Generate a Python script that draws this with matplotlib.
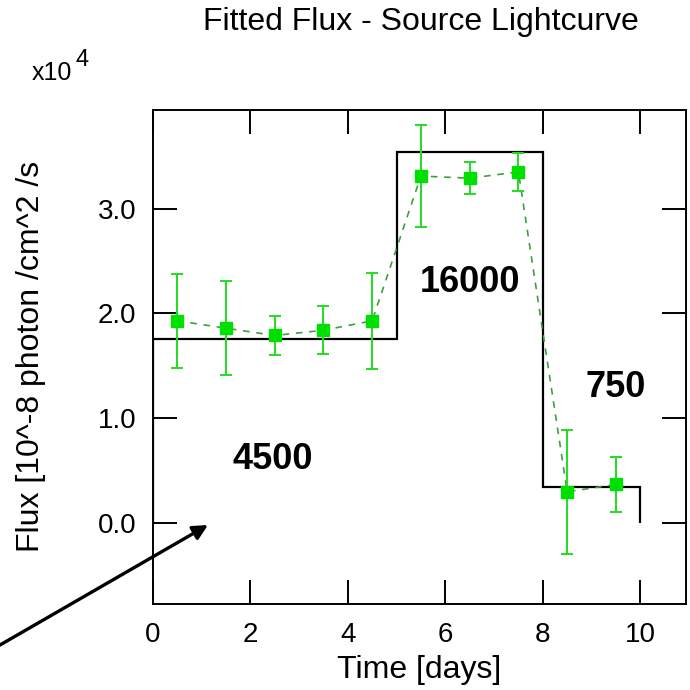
import matplotlib
matplotlib.use("Agg")
import matplotlib.pyplot as plt
import numpy as np

plt.rcParams['font.family'] = ['Liberation Sans', 'DejaVu Sans']

# Binned lightcurve (flux in units of 1e4)
time_days = [0.5, 1.5, 2.5, 3.5, 4.5, 5.5, 6.5, 7.5, 8.5, 9.5]
flux = [1.93, 1.86, 1.79, 1.84, 1.93, 3.31, 3.29, 3.35, 0.30, 0.37]
flux_err = [0.45, 0.45, 0.19, 0.23, 0.46, 0.49, 0.15, 0.18, 0.59, 0.26]

# Input step model
step_edges = [0, 5, 8, 10]
step_levels = [1.76, 3.54, 0.35]

# Segment annotations: (text, x, y)
seg_labels = ["4500", "16000", "750"]
seg_x = [2.46, 6.50, 9.50]
seg_y = [0.61, 2.30, 1.29]

xticks = [0, 2, 4, 6, 8, 10]
yticks = [0.0, 1.0, 2.0, 3.0]

W = H = 690
AX_L, AX_R, AX_T, AX_B = 152.7, 685.7, 110.0, 604.0
fig = plt.figure(figsize=(6.9, 6.9), dpi=100)
ax = fig.add_axes([AX_L / W, 1 - AX_B / H, (AX_R - AX_L) / W, (AX_B - AX_T) / H])

green = '#00e000'

ax.stairs(step_levels, step_edges, baseline=0, color='black', lw=1.6, zorder=2)

ax.plot(time_days, flux, ls=(0, (4, 4)), color='#3f9f3f', lw=1.2, zorder=3)
ax.errorbar(time_days, flux, yerr=flux_err, fmt='s', color=green, ms=8,
            ecolor='#22dd22', elinewidth=1.4, capsize=4, capthick=1.4, zorder=4)

for txt, x, y in zip(seg_labels, seg_x, seg_y):
    ax.text(x, y, txt, ha='center', va='center', fontsize=26, fontweight='bold')

ax.set_xlim(0, 10.93)
ax.set_ylim(-0.77, 3.94)
ax.set_xticks(xticks)
ax.set_xticklabels([str(t) for t in xticks])
ax.set_yticks(yticks)
ax.set_yticklabels([f"{t:.1f}" for t in yticks])

ax.tick_params(direction='in', length=17, width=1.4, top=True, right=True,
               labelsize=20, colors='black')
ax.tick_params(axis='x', pad=13)
ax.tick_params(axis='y', pad=12)
for s in ax.spines.values():
    s.set_linewidth(1.4)

ax.set_xlabel('Time [days]', fontsize=23)
ax.xaxis.label.set_va('baseline')
ax.xaxis.set_label_coords((419 - AX_L) / (AX_R - AX_L), (AX_B - 678) / (AX_B - AX_T))

ax.set_ylabel('Flux [10^-8 photon /cm^2 /s', fontsize=23)
ax.yaxis.label.set_va('center')
ax.yaxis.set_label_coords((31 - AX_L) / (AX_R - AX_L), (AX_B - 356) / (AX_B - AX_T))

fig.text(421 / W, 1 - 30 / H, 'Fitted Flux - Source Lightcurve', ha='center', va='baseline', fontsize=23)
fig.text(32 / W, 1 - 80 / H, 'x10', ha='left', va='baseline', fontsize=18)
fig.text(76 / W, 1 - 66 / H, '4', ha='left', va='baseline', fontsize=17)

ax.annotate('', xy=(208 / W, 1 - 525 / H), xycoords='figure fraction',
            xytext=(0 / W, 1 - 645 / H), textcoords='figure fraction',
            arrowprops=dict(arrowstyle='-|>', lw=2.4, color='black', mutation_scale=22,
                            shrinkA=0, shrinkB=0),
            annotation_clip=False)

fig.savefig('out.png', dpi=100, facecolor='white')
